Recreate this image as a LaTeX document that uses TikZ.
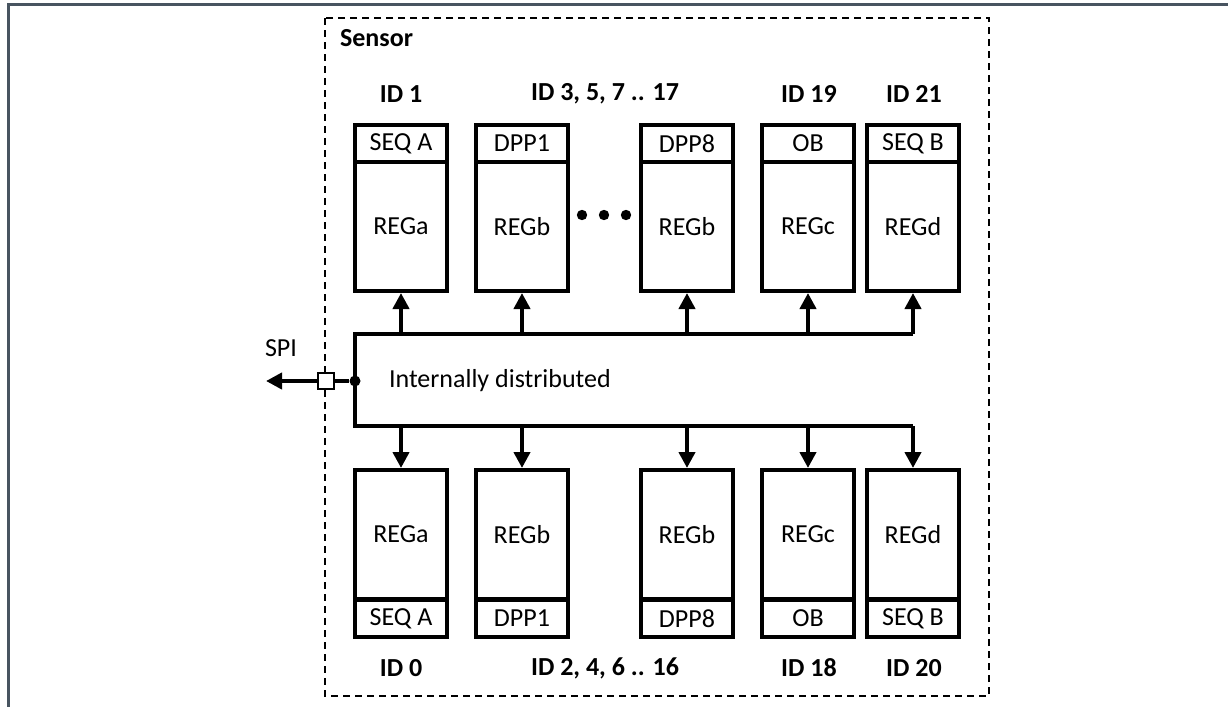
\documentclass[tikz,border=0pt]{standalone}
\usepackage{fontspec}
\setmainfont{Carlito}
\usetikzlibrary{arrows.meta}
\definecolor{framegray}{RGB}{72,84,96}

\begin{document}
\begin{tikzpicture}[x=0.5pt, y=-0.5pt,
  font=\fontsize{13}{15}\selectfont,
  wire/.style={line width=2pt},
  bus/.style={line width=2pt, -{Triangle[length=8pt,width=8pt]}},
  regbox/.style={draw, line width=2pt, minimum width=46pt, minimum height=64.5pt, inner sep=0pt},
  tagbox/.style={draw, line width=2pt, minimum width=46pt, minimum height=18.5pt, inner sep=0pt},
  idlabel/.style={font=\fontsize{13}{15}\selectfont\bfseries},
  portbox/.style={draw, fill=white, line width=1pt, minimum size=8pt, inner sep=0pt}
]
\useasboundingbox (0,0) rectangle (1228,707);

% Frame
\draw[framegray, line width=1.5pt] (8,707) -- (8,4) -- (1228,4);

% Sensor outline
\draw[dash pattern=on 3.5pt off 2.5pt, line width=1pt] (325,18) rectangle (989,696);
\node[idlabel, anchor=west] (sensor) at (333,38) {Sensor};

% Upper row: odd IDs
\node[regbox] (t1) at (401,226.5) {REGa};
\node[tagbox] (t1h) at (401,143.5) {SEQ A};
\node[regbox] (t2) at (522,226.5) {REGb};
\node[tagbox] (t2h) at (522,143.5) {DPP1};
\node[regbox] (t3) at (687,226.5) {REGb};
\node[tagbox] (t3h) at (687,143.5) {DPP8};
\node[regbox] (t4) at (808,226.5) {REGc};
\node[tagbox] (t4h) at (808,143.5) {OB};
\node[regbox] (t5) at (913,226.5) {REGd};
\node[tagbox] (t5h) at (913,143.5) {SEQ B};

\node[idlabel] (id1) at (401,94) {ID 1};
\node[idlabel] (id3) at (605,94) {ID 3, 5, 7 .. 17};
\node[idlabel] (id19) at (809,94) {ID 19};
\node[idlabel] (id21) at (914,94) {ID 21};

% Ellipsis between DPP1 and DPP8
\fill (582,215) circle[radius=2.6pt];
\fill (604,215) circle[radius=2.6pt];
\fill (626,215) circle[radius=2.6pt];

% Lower row: even IDs
\node[regbox] (b1) at (401,534.5) {REGa};
\node[tagbox] (b1f) at (401,618.5) {SEQ A};
\node[regbox] (b2) at (522,534.5) {REGb};
\node[tagbox] (b2f) at (522,618.5) {DPP1};
\node[regbox] (b3) at (687,534.5) {REGb};
\node[tagbox] (b3f) at (687,618.5) {DPP8};
\node[regbox] (b4) at (808,534.5) {REGc};
\node[tagbox] (b4f) at (808,618.5) {OB};
\node[regbox] (b5) at (913,534.5) {REGd};
\node[tagbox] (b5f) at (913,618.5) {SEQ B};

\node[idlabel] (id0) at (401,668) {ID 0};
\node[idlabel] (id2) at (605,668) {ID 2, 4, 6 .. 16};
\node[idlabel] (id18) at (809,668) {ID 18};
\node[idlabel] (id20) at (914,668) {ID 20};

% Internal bus
\coordinate (busT) at (355,334);
\coordinate (busB) at (355,426);
\draw[wire] (t5.south |- busT) -- (busT) -- (busB) -- (b5.north |- busB);
\draw[bus] (t1.south |- busT) -- (t1.south);
\draw[bus] (t2.south |- busT) -- (t2.south);
\draw[bus] (t3.south |- busT) -- (t3.south);
\draw[bus] (t4.south |- busT) -- (t4.south);
\draw[bus] (t5.south |- busT) -- (t5.south);
\draw[bus] (b1.north |- busB) -- (b1.north);
\draw[bus] (b2.north |- busB) -- (b2.north);
\draw[bus] (b3.north |- busB) -- (b3.north);
\draw[bus] (b4.north |- busB) -- (b4.north);
\draw[bus] (b5.north |- busB) -- (b5.north);
\node[anchor=west] (dist) at (382,381) {Internally distributed};

% SPI port
\node[circle, fill, inner sep=0pt, minimum size=5.5pt] (jn) at (355,381) {};
\coordinate (spiend) at (266,381);
\draw[wire] (jn) -- (326,381);
\node[portbox] (spi) at (326,381) {};
\draw[bus] (spi) -- (spiend);
\node (spilabel) at (281,348) {SPI};

\end{tikzpicture}
\end{document}
